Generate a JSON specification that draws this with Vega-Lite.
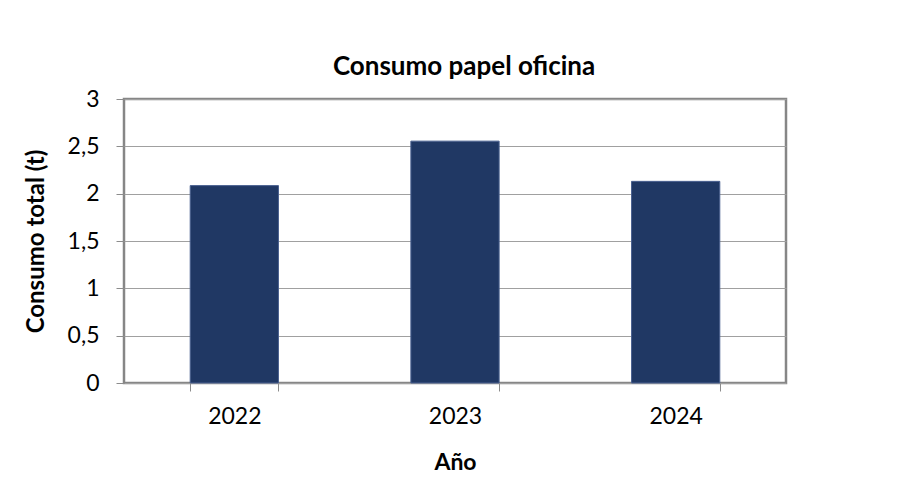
{
  "$schema": "https://vega.github.io/schema/vega-lite/v6.json",
  "width": 662,
  "height": 284,
  "autosize": "none",
  "padding": {"left": 124, "top": 99, "right": 129, "bottom": 96},
  "background": "white",
  "title": {
    "text": "Consumo papel oficina",
    "font": "Lato",
    "fontSize": 26,
    "fontWeight": "bold",
    "color": "black",
    "anchor": "middle",
    "dx": 9,
    "offset": 8
  },
  "data": {
    "values": [
      {"year": "2022", "consumo": 2.085},
      {"year": "2023", "consumo": 2.555},
      {"year": "2024", "consumo": 2.13}
    ]
  },
  "mark": {"type": "bar", "color": "#203864", "stroke": "#4a6190", "strokeWidth": 1},
  "encoding": {
    "x": {
      "field": "year",
      "type": "nominal",
      "scale": {"paddingInner": 0.6, "paddingOuter": 0.3},
      "axis": {
        "title": "Año",
        "labelAngle": 0,
        "tickBand": "extent",
        "tickSize": 8,
        "tickColor": "#8c8c8c",
        "tickWidth": 1,
        "domain": false,
        "grid": false,
        "labelFont": "Lato",
        "labelFontSize": 23,
        "labelColor": "black",
        "labelPadding": 14,
        "titleFont": "Lato",
        "titleFontSize": 23,
        "titleFontWeight": "bold",
        "titleColor": "black",
        "titlePadding": 23
      }
    },
    "y": {
      "field": "consumo",
      "type": "quantitative",
      "scale": {"domain": [0, 3], "nice": false},
      "axis": {
        "title": "Consumo total (t)",
        "values": [0, 0.5, 1, 1.5, 2, 2.5, 3],
        "labelExpr": "replace(format(datum.value, '~g'), '.', ',')",
        "tickSize": 8,
        "tickColor": "#8c8c8c",
        "tickWidth": 1,
        "domain": false,
        "grid": true,
        "gridColor": "#a0a0a0",
        "gridWidth": 1,
        "labelFont": "Lato",
        "labelFontSize": 23,
        "labelColor": "black",
        "labelPadding": 17,
        "titleFont": "Lato",
        "titleFontSize": 24,
        "titleFontWeight": "bold",
        "titleColor": "black",
        "titlePadding": 19
      }
    }
  },
  "config": {"view": {"stroke": "#868686", "strokeWidth": 2.5}}
}
